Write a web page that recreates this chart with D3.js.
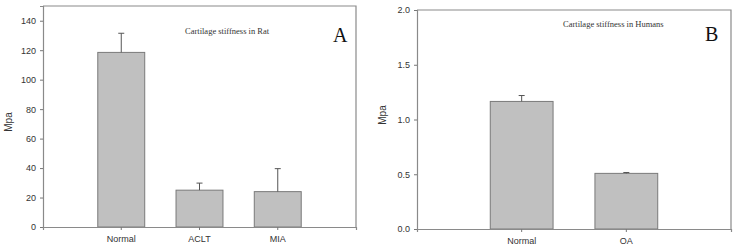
<!DOCTYPE html>
<html>
<head>
<meta charset="utf-8">
<script src="https://cdnjs.cloudflare.com/ajax/libs/d3/7.8.5/d3.min.js"></script>
<style>
  body { margin: 0; background: #fff; }
  svg { display: block; }
  .tick text { font-family: "Liberation Sans", Arial, sans-serif; font-size: 9px; fill: #333; }
</style>
</head>
<body>
<div id="chart"></div>
<script>
// DATA
const ratGroups = ["Normal", "ACLT", "MIA"];
const ratMeans = [118.5, 25, 24];
const ratErrors = [13, 4.8, 15.6];
const ratTicks = [0, 20, 40, 60, 80, 100, 120, 140];

const humanGroups = ["Normal", "OA"];
const humanMeans = [1.165, 0.508];
const humanErrors = [0.054, 0.008];
const humanTicks = [0, 0.5, 1.0, 1.5, 2.0];

const svg = d3.select("#chart").append("svg").attr("width", 736).attr("height", 250);

function drawPanel(p) {
  const g = svg.append("g");

  // SCALE
  const x = d3.scaleBand().domain(p.groups).range([p.left, p.right]).paddingInner(0.4).paddingOuter(0.7);
  const y = d3.scaleLinear().domain(p.domain).range([p.bottom, p.top]);

  // BOX (top and right edges)
  g.append("path")
    .attr("d", `M${p.left},${p.top}H${p.right}V${p.bottom}`)
    .attr("fill", "none")
    .attr("stroke", "#8a8a8a")
    .attr("stroke-width", 1.2);

  // BARS
  const data = p.groups.map((d, i) => ({ name: d, v: p.means[i], e: p.errors[i] }));
  g.selectAll("rect.bar")
    .data(data)
    .enter()
    .append("rect")
    .attr("class", "bar")
    .attr("x", (d) => x(d.name))
    .attr("width", x.bandwidth())
    .attr("y", (d) => y(d.v))
    .attr("height", (d) => y(0) - y(d.v))
    .attr("fill", "#c0c0c0")
    .attr("stroke", "#7a7a7a")
    .attr("stroke-width", 1);

  // ERROR BARS
  const cx = (d) => x(d.name) + x.bandwidth() / 2;
  g.selectAll("line.err")
    .data(data)
    .enter()
    .append("line")
    .attr("x1", cx)
    .attr("x2", cx)
    .attr("y1", (d) => y(d.v))
    .attr("y2", (d) => y(d.v + d.e))
    .attr("stroke", "#555")
    .attr("stroke-width", 1);
  g.selectAll("line.cap")
    .data(data)
    .enter()
    .append("line")
    .attr("x1", (d) => cx(d) - 3)
    .attr("x2", (d) => cx(d) + 3)
    .attr("y1", (d) => y(d.v + d.e))
    .attr("y2", (d) => y(d.v + d.e))
    .attr("stroke", "#555")
    .attr("stroke-width", 1);

  // AXIS
  const yAxis = g.append("g")
    .attr("transform", `translate(${p.left},0)`)
    .call(d3.axisLeft(y).tickValues(p.ticks).tickFormat(p.fmt).tickSize(3).tickPadding(4));
  const xAxis = g.append("g")
    .attr("transform", `translate(0,${p.bottom})`)
    .call(d3.axisBottom(x).tickSize(3).tickPadding(6));
  [yAxis, xAxis].forEach((a) => {
    a.select(".domain").attr("stroke", "#8a8a8a").attr("stroke-width", 1.2);
    a.selectAll(".tick line").attr("stroke", "#777");
  });

  // LABEL
  g.append("text")
    .attr("transform", `translate(${p.labelX},${p.labelY}) rotate(-90)`)
    .attr("text-anchor", "middle")
    .attr("font-family", "Liberation Sans, Arial, sans-serif")
    .attr("font-size", "10px")
    .attr("fill", "#333")
    .text("Mpa");

  // TITLE
  g.append("text")
    .attr("x", p.titleX)
    .attr("y", p.titleY)
    .attr("font-family", "Liberation Serif, Times New Roman, serif")
    .attr("font-size", "8.5px")
    .attr("fill", "#333")
    .text(p.title);

  g.append("text")
    .attr("x", p.letterX)
    .attr("y", p.letterY)
    .attr("font-family", "Liberation Serif, Times New Roman, serif")
    .attr("font-size", "20px")
    .attr("fill", "#111")
    .text(p.letter);
}

drawPanel({
  groups: ratGroups, means: ratMeans, errors: ratErrors, ticks: ratTicks,
  domain: [0, 150], fmt: d3.format("d"),
  left: 43, right: 356, top: 6, bottom: 227,
  labelX: 12, labelY: 122,
  title: "Cartilage stiffness in Rat", titleX: 185, titleY: 34,
  letter: "A", letterX: 333, letterY: 42
});

drawPanel({
  groups: humanGroups, means: humanMeans, errors: humanErrors, ticks: humanTicks,
  domain: [0, 2], fmt: d3.format(".1f"),
  left: 417, right: 731, top: 10, bottom: 229,
  labelX: 386, labelY: 115,
  title: "Cartilage stiffness in Humans", titleX: 563, titleY: 27,
  letter: "B", letterX: 705, letterY: 41
});
</script>
</body>
</html>
